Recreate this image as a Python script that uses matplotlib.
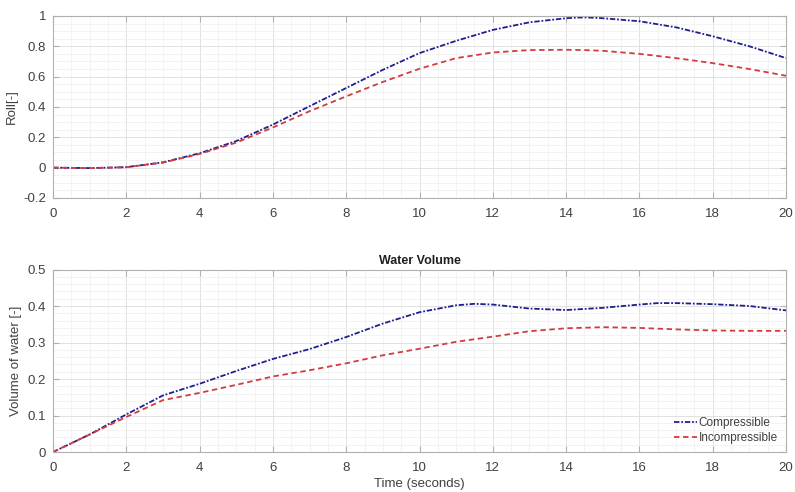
import matplotlib
matplotlib.use("Agg")
import matplotlib.pyplot as plt
from matplotlib.ticker import MultipleLocator, AutoMinorLocator, FuncFormatter

plt.rcParams['font.family'] = ['Liberation Sans', 'DejaVu Sans']

t = [0, 1, 2, 3, 4, 5, 6, 7, 8, 9, 10, 11, 12, 13, 14, 14.5, 15, 16, 17, 18, 19, 20]
roll_comp = [0, -0.003, 0.003, 0.035, 0.095, 0.175, 0.284, 0.405, 0.525, 0.645, 0.755,
             0.836, 0.908, 0.958, 0.985, 0.991, 0.985, 0.965, 0.925, 0.866, 0.80, 0.722]
roll_incomp = [0, -0.003, 0.003, 0.033, 0.09, 0.165, 0.265, 0.372, 0.47, 0.565, 0.652,
               0.722, 0.759, 0.775, 0.777, 0.775, 0.77, 0.75, 0.722, 0.689, 0.65, 0.606]

t2 = [0, 1, 2, 3, 4, 5, 6, 7, 8, 9, 10, 11, 11.5, 12, 13, 14, 15, 16, 16.5, 17, 18, 19, 20]
vol_comp = [0, 0.048, 0.103, 0.155, 0.187, 0.222, 0.255, 0.282, 0.315, 0.352, 0.383,
            0.402, 0.406, 0.404, 0.393, 0.389, 0.395, 0.404, 0.408, 0.408, 0.405, 0.400, 0.388]
vol_incomp = [0, 0.048, 0.096, 0.142, 0.162, 0.184, 0.207, 0.224, 0.243, 0.265, 0.283,
              0.302, 0.309, 0.316, 0.331, 0.339, 0.342, 0.340, 0.338, 0.336, 0.333, 0.332, 0.332]

blue = '#1f1f8f'
red = '#d23c3c'
tick_col = '#404040'
edge_col = '#b0b0b0'
dashdot = (0, (3, 1, 1, 1))
dashed = (0, (3, 2))

fig = plt.figure(figsize=(7.95, 4.92), dpi=100)
ax1 = fig.add_axes([0.0667, 0.5976, 0.922, 0.37])
ax2 = fig.add_axes([0.0667, 0.0813, 0.922, 0.3709])

def style(ax, ymaj, yminor_n):
    ax.set_xlim(0, 20)
    ax.xaxis.set_major_locator(MultipleLocator(2))
    ax.xaxis.set_minor_locator(AutoMinorLocator(4))
    ax.yaxis.set_major_locator(MultipleLocator(ymaj))
    ax.yaxis.set_minor_locator(AutoMinorLocator(yminor_n))
    ax.grid(True, which='major', color='#dcdcdc', linewidth=0.6)
    ax.grid(True, which='minor', color='#efefef', linewidth=0.5)
    ax.set_axisbelow(True)
    for s in ax.spines.values():
        s.set_color(edge_col)
        s.set_linewidth(0.8)
    ax.tick_params(which='major', direction='in', length=4, color=edge_col,
                   labelcolor=tick_col, labelsize=9.5, top=True, right=True)
    ax.tick_params(axis='x', which='major', pad=7)
    ax.tick_params(axis='y', which='major', pad=5)
    ax.tick_params(which='minor', length=0)
    ax.yaxis.set_major_formatter(FuncFormatter(lambda v, p: ('%g' % round(v, 3))))

style(ax1, 0.2, 4)
ax1.set_ylim(-0.2, 1)
ax1.plot(t, roll_comp, linestyle=dashdot, color=blue, linewidth=1.3)
ax1.plot(t, roll_incomp, linestyle=dashed, color=red, linewidth=1.3)
ax1.set_ylabel('Roll[-]', color=tick_col, fontsize=9.5)

style(ax2, 0.1, 5)
ax2.set_ylim(0, 0.5)
ax2.plot(t2, vol_comp, linestyle=dashdot, color=blue, linewidth=1.3, label='Compressible')
ax2.plot(t2, vol_incomp, linestyle=dashed, color=red, linewidth=1.3, label='Incompressible')
ax2.set_ylabel('Volume of water [-]', color=tick_col, fontsize=9.5)
ax2.set_xlabel('Time (seconds)', color=tick_col, fontsize=9.5, labelpad=3)
ax2.set_title('Water Volume', fontsize=9, fontweight='bold', color='#202020', pad=4)
leg = ax2.legend(loc='lower right', frameon=False, fontsize=8.5, handlelength=2.0,
                 handletextpad=0.1, borderaxespad=0.3, labelspacing=0.2)
for txt in leg.get_texts():
    txt.set_color(tick_col)

fig.savefig('out.png', dpi=100)
